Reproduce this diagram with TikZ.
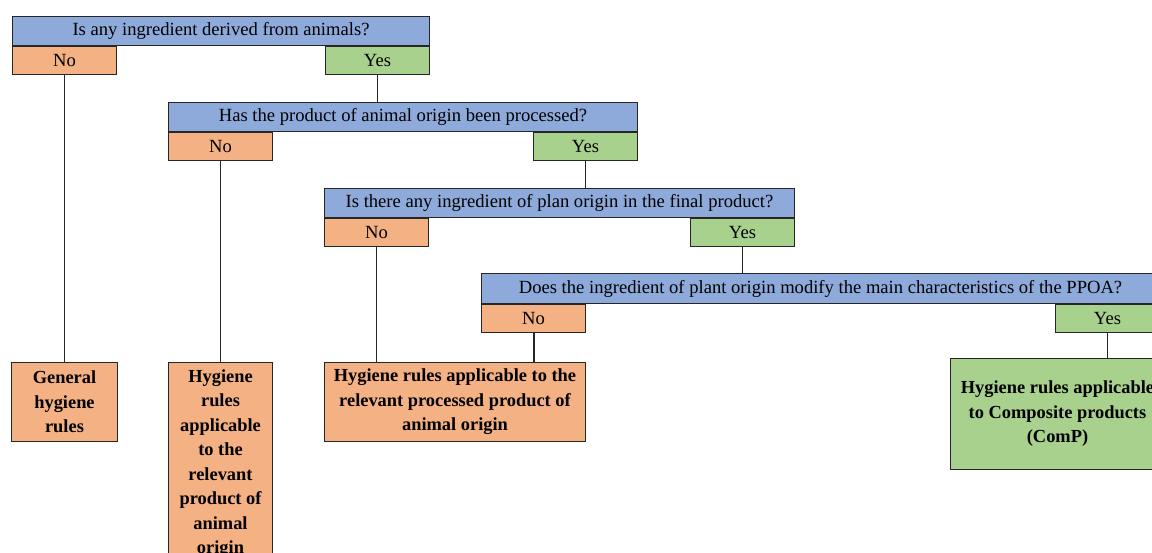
\documentclass[tikz,border=0pt]{standalone}
\usepackage{fontspec}
\setmainfont{Liberation Serif}

\definecolor{qblue}{HTML}{8EAADB}
\definecolor{noorange}{HTML}{F4B183}
\definecolor{yesgreen}{HTML}{A9D18E}

\tikzset{
  box/.style={draw=black!85, line width=1pt, anchor=north west, inner sep=0pt, align=center},
  question/.style={box, fill=qblue, minimum height=29pt, font=\fontsize{18.6}{20}\selectfont},
  nobox/.style={box, fill=noorange, minimum width=104pt, minimum height=28pt, font=\fontsize{18.6}{20}\selectfont},
  yesbox/.style={box, fill=yesgreen, minimum width=104pt, minimum height=28pt, font=\fontsize{18.6}{20}\selectfont},
  rulebox/.style={box, font=\bfseries\fontsize{18.4}{24.5}\selectfont},
  link/.style={draw=black!85, line width=1pt}
}

\begin{document}
\begin{tikzpicture}[x=1pt,y=-1pt]
  \useasboundingbox (0,0) rectangle (1152,553);
  \clip (0,0) rectangle (1152,553);

  \node[question, minimum width=417pt] (q1) at (12,16) {Is any ingredient derived from animals?};
  \node[nobox] (q1no) at (q1.south west) {No};
  \node[yesbox, anchor=north east] (q1yes) at (q1.south east) {Yes};

  \node[question, minimum width=469pt] (q2) at (168,102) {Has the product of animal origin been processed?};
  \node[nobox] (q2no) at (q2.south west) {No};
  \node[yesbox, anchor=north east] (q2yes) at (q2.south east) {Yes};

  \node[question, minimum width=470pt] (q3) at (324,188) {Is there any ingredient of plan origin in the final product?};
  \node[nobox] (q3no) at (q3.south west) {No};
  \node[yesbox, anchor=north east] (q3yes) at (q3.south east) {Yes};

  \node[question, minimum width=678pt, minimum height=30pt] (q4) at (481,273) {Does the ingredient of plant origin modify the main characteristics of the PPOA?};
  \node[nobox] (q4no) at (q4.south west) {No};
  \node[yesbox, anchor=north east] (q4yes) at (q4.south east) {Yes};

  \node[rulebox, fill=noorange, minimum width=106pt, minimum height=79pt] (general) at (11,362) {General\\hygiene\\rules};
  \node[rulebox, fill=noorange, minimum width=104pt, minimum height=202pt] (animal) at (168,362) {Hygiene\\rules\\applicable\\to the\\relevant\\product of\\animal\\origin};
  \node[rulebox, fill=noorange, minimum width=261pt, minimum height=79pt] (processed) at (324,362) {Hygiene rules applicable to the\\relevant processed product of\\animal origin};
  \node[rulebox, fill=yesgreen, minimum width=214pt, minimum height=111pt] (composite) at (950,358) {Hygiene rules applicable\\to Composite products\\(ComP)};

  \draw[link] (q1no) -- (general);
  \draw[link] (q1yes.south) -- (q1yes.south |- q2.north);
  \draw[link] (q2no) -- (animal);
  \draw[link] (q2yes.south) -- (q2yes.south |- q3.north);
  \draw[link] (q3no.south) -- (q3no.south |- processed.north);
  \draw[link] (q3yes.south) -- (q3yes.south |- q4.north);
  \draw[link, line width=2pt] (q4no.south) -- (q4no.south |- processed.north);
  \draw[link] (q4yes.south) -- (q4yes.south |- composite.north);
\end{tikzpicture}
\end{document}
